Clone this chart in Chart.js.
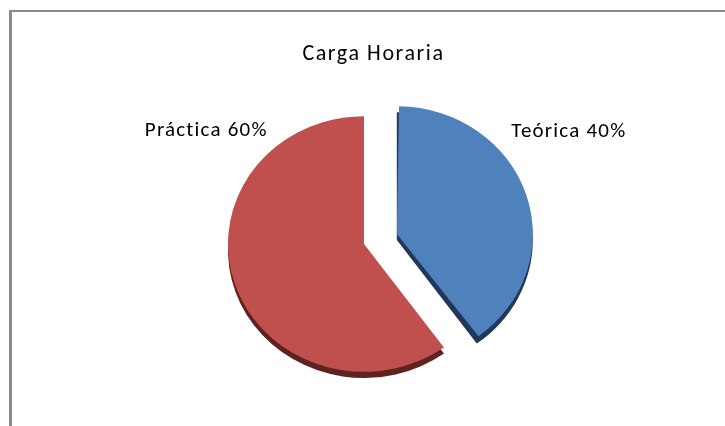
<!DOCTYPE html>
<html lang="es">
<head>
  <meta charset="UTF-8" />
  <title>Carga Horaria</title>
  <script src="https://cdn.jsdelivr.net/npm/chart.js"></script>
  <style>
    html, body {
      margin: 0;
      background: #fff;
      overflow: hidden;
    }
    .wrap {
      position: relative;
      width: 725px;
      height: 426px;
    }
    .frame {
      position: absolute;
      left: 9px;
      top: 10px;
      width: 800px;
      height: 500px;
      border-left: 3px solid #8a8a8a;
      border-top: 2px solid #8a8a8a;
      pointer-events: none;
    }
  </style>
</head>
<body>

<div class="wrap">
  <canvas id="pieChart"></canvas>
  <div class="frame"></div>
</div>

<script>
// data
const chartTitle = "Carga Horaria";
const categories = ["Teórica", "Práctica"];
const percentages = [40, 60];
const sliceColors = ["#4F81BD", "#C0504D"];
const sideColors = ["#22385a", "#5e2220"];
const explode = [138, 0];   // chart.js moves a slice by offset / 4

const FONT = "Carlito, Calibri, 'Open Sans', sans-serif";
const TILT = 0.94;          // squash the pie a little, like excel's 3d pie
const DEPTH = 6.5;

// the exploded slice keeps the same radius as the others
const keepRadius = {
  id: "keepRadius",
  afterDatasetUpdate(chart, args) {
    args.meta.data.forEach(arc => {
      const off = (arc.options.offset || 0) / 4;
      const fix = 1 - Math.sin(Math.min(Math.PI, arc.circumference));
      arc.outerRadius -= off * fix;
    });
  }
};

function sliceCenter(arc) {
  const off = (arc.options.offset || 0) / 4;
  const mid = (arc.startAngle + arc.endAngle) / 2;
  return { x: arc.x + Math.cos(mid) * off, y: arc.y + Math.sin(mid) * off };
}

// tilt + dark side under each slice
const pieDepth = {
  id: "pieDepth",
  beforeDatasetsDraw(chart) {
    const ctx = chart.ctx;
    const meta = chart.getDatasetMeta(0);
    const R = meta.controller.outerRadius;
    const cy = meta.data[0].y;
    ctx.save();
    ctx.translate(0, cy);
    ctx.scale(1, TILT);
    ctx.translate(0, -cy);
    meta.data.forEach((arc, i) => {
      const c = sliceCenter(arc);
      ctx.fillStyle = sideColors[i];
      ctx.beginPath();
      ctx.moveTo(c.x, c.y + DEPTH);
      ctx.arc(c.x, c.y + DEPTH, R, arc.startAngle, arc.endAngle);
      ctx.closePath();
      ctx.fill();
    });
  },
  afterDatasetsDraw(chart) {
    chart.ctx.restore();
  }
};

// title plus "Teórica 40%" style labels placed beside the pie
const sliceLabels = {
  id: "sliceLabels",
  afterDatasetsDraw(chart, args, opts) {
    const ctx = chart.ctx;
    const meta = chart.getDatasetMeta(0);
    const R = meta.controller.outerRadius;
    ctx.save();
    ctx.fillStyle = "#000";
    ctx.textAlign = "center";
    ctx.textBaseline = "middle";

    ctx.font = "22px " + FONT;
    ctx.letterSpacing = "1.6px";
    ctx.fillText(chartTitle, chart.width / 2 + 11, 54);

    ctx.font = "21px " + FONT;
    ctx.letterSpacing = "1.2px";
    meta.data.forEach((arc, i) => {
      const c = sliceCenter(arc);
      const x = c.x + opts.dx[i] * R;
      const y = arc.y + (c.y - arc.y) * TILT + opts.dy[i] * R;
      ctx.fillText(categories[i] + " " + percentages[i] + "%", x, y);
    });
    ctx.restore();
  }
};

new Chart(document.getElementById("pieChart"), {
  type: "pie",
  data: {
    labels: categories,
    datasets: [{
      data: percentages,
      backgroundColor: sliceColors,
      borderWidth: 0,
      offset: explode,
      radius: 136
    }]
  },
  options: {
    responsive: true,
    maintainAspectRatio: false,
    animation: false,
    events: [],
    layout: {
      padding: { left: 3, right: 0, top: 67, bottom: 5 }
    },
    plugins: {
      legend: { display: false },
      tooltip: { enabled: false },
      title: { display: false },
      sliceLabels: {
        dx: [1.265, -1.16],
        dy: [-0.75, -0.83]
      }
    }
  },
  plugins: [keepRadius, pieDepth, sliceLabels]
});
</script>

</body>
</html>
